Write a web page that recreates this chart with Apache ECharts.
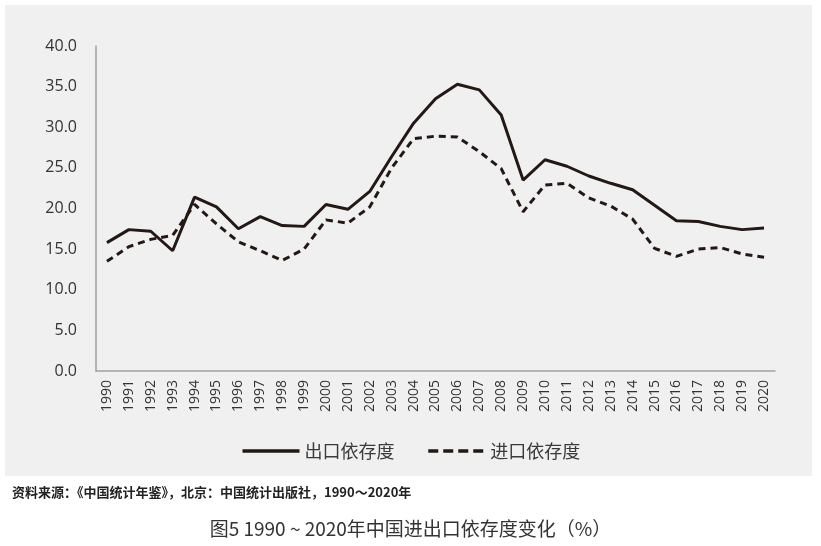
<!DOCTYPE html>
<html>
<head>
<meta charset="utf-8">
<script src="https://cdn.jsdelivr.net/npm/echarts@6/dist/echarts.min.js"></script>
<style>
  html, body { margin: 0; padding: 0; background: #fff; }
  #chart { width: 821px; height: 546px; }
</style>
</head>
<body>
<div id="chart"></div>
<script>
// 年份
var years = ['1990','1991','1992','1993','1994','1995','1996','1997','1998','1999',
  '2000','2001','2002','2003','2004','2005','2006','2007','2008','2009',
  '2010','2011','2012','2013','2014','2015','2016','2017','2018','2019','2020'];

// 出口依存度 (%)
var exportDep = [15.8, 17.4, 17.2, 14.8, 21.4, 20.2, 17.5, 19.0, 17.9, 17.8,
  20.5, 19.9, 22.1, 26.4, 30.5, 33.5, 35.3, 34.6, 31.5, 23.5,
  26.0, 25.2, 24.0, 23.1, 22.3, 20.4, 18.5, 18.4, 17.8, 17.4, 17.6];

// 进口依存度 (%)
var importDep = [13.5, 15.3, 16.2, 16.7, 20.5, 18.1, 15.9, 14.8, 13.6, 15.0,
  18.6, 18.2, 20.2, 25.0, 28.6, 28.9, 28.8, 27.0, 24.9, 19.6,
  22.9, 23.1, 21.3, 20.3, 18.7, 15.1, 14.1, 15.0, 15.2, 14.4, 14.0];

var myChart = echarts.init(document.getElementById('chart'));

var option = {
  backgroundColor: '#ffffff',
  animation: false,
  textStyle: { fontFamily: '"Noto Sans CJK SC", "Open Sans", sans-serif' },
  graphic: [
    { // 灰色底板
      type: 'rect', z: -10, silent: true,
      shape: { x: 5, y: 5, width: 807, height: 471 },
      style: { fill: '#eff0ef' }
    },
    {
      type: 'text', left: 12, top: 486, silent: true,
      style: {
        text: '资料来源：《中国统计年鉴》，北京：中国统计出版社，1990～2020年',
        fill: '#222', font: 'bold 13px "Noto Sans CJK SC"'
      }
    },
    {
      type: 'text', left: 'center', top: 519, silent: true,
      style: {
        text: '图5 1990 ~ 2020年中国进出口依存度变化（%）',
        fill: '#333', font: '19px "Noto Sans CJK SC"'
      }
    }
  ],
  legend: {
    top: 437,
    left: 'center',
    itemWidth: 57,
    itemHeight: 14,
    itemGap: 32,
    itemStyle: { opacity: 0 },
    lineStyle: { width: 3.5 },
    textStyle: { fontSize: 18, color: '#3a3a3a', fontFamily: '"Noto Sans CJK SC"' },
    data: [
      { name: '出口依存度' },
      { name: '进口依存度', lineStyle: { width: 3.5, type: [10, 5] } }
    ]
  },
  grid: { left: 96, right: 46, top: 46, bottom: 175 },
  xAxis: {
    type: 'category',
    data: years,
    boundaryGap: true,
    axisLine: { lineStyle: { color: '#a0a0a0', width: 1.5 } },
    axisTick: { show: false },
    axisLabel: {
      rotate: 90, margin: 9, fontSize: 14, color: '#333',
      fontFamily: '"Open Sans", sans-serif'
    }
  },
  yAxis: {
    type: 'value',
    min: 0, max: 40, interval: 5,
    axisLine: { show: true, lineStyle: { color: '#a0a0a0', width: 1.5 } },
    axisTick: { show: false },
    splitLine: { show: false },
    axisLabel: {
      margin: 19, fontSize: 16, color: '#333',
      fontFamily: '"Open Sans", sans-serif',
      formatter: function (v) { return v.toFixed(1); }
    }
  },
  series: [
    {
      name: '出口依存度',
      type: 'line',
      data: exportDep,
      symbol: 'none',
      lineStyle: { color: '#231815', width: 3 },
      itemStyle: { color: '#231815' }
    },
    {
      name: '进口依存度',
      type: 'line',
      data: importDep,
      symbol: 'none',
      lineStyle: { color: '#231815', width: 3, type: [7, 5] },
      itemStyle: { color: '#231815' }
    }
  ]
};

myChart.setOption(option);
</script>
</body>
</html>
